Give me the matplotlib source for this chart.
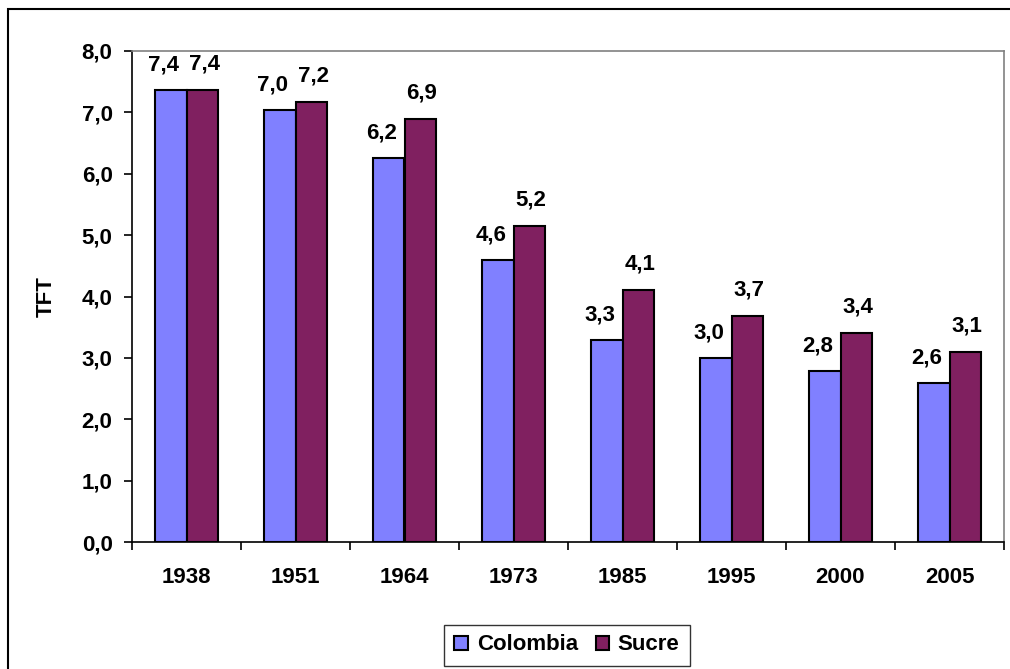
import matplotlib
matplotlib.use("Agg")
import matplotlib.pyplot as plt
import numpy as np
from matplotlib.patches import Rectangle

years = ["1938", "1951", "1964", "1973", "1985", "1995", "2000", "2005"]
colombia = [7.36, 7.04, 6.25, 4.59, 3.29, 3.00, 2.78, 2.59]
sucre = [7.36, 7.17, 6.89, 5.15, 4.10, 3.69, 3.40, 3.10]
series_names = ["Colombia", "Sucre"]
yticks = [0, 1, 2, 3, 4, 5, 6, 7, 8]

plt.rcParams['font.family'] = ['Liberation Sans', 'DejaVu Sans']
plt.rcParams['font.weight'] = 'bold'

W, H = 1010, 669
fig = plt.figure(figsize=(W / 100, H / 100), dpi=100)
ax = fig.add_axes([132 / W, 1 - 542 / H, (1004 - 132) / W, (542 - 51) / H])

x = np.arange(len(years))
bw = 0.285
c1, c2 = "#8080FF", "#802060"
ax.bar(x - bw / 2, colombia, bw, color=c1, edgecolor="black", linewidth=1.5, label=series_names[0])
ax.bar(x + bw / 2, sucre, bw, color=c2, edgecolor="black", linewidth=1.5, label=series_names[1])

fs = 16
lfs = 16
for xi, v in zip(x, colombia):
    ax.annotate(f"{v:.1f}".replace(".", ","), (xi - bw / 2, v), xytext=(-7, 25),
                textcoords="offset pixels", ha="center", va="center", fontsize=lfs, fontweight="bold")
for xi, v in zip(x, sucre):
    ax.annotate(f"{v:.1f}".replace(".", ","), (xi + bw / 2, v), xytext=(2, 26),
                textcoords="offset pixels", ha="center", va="center", fontsize=lfs, fontweight="bold")

ax.set_xlim(-0.5, len(years) - 0.5)
ax.set_ylim(0, 8)
ax.set_yticks(yticks)
ax.set_yticklabels([f"{t:.1f}".replace(".", ",") for t in yticks], fontsize=fs, fontweight="bold")
ax.set_xticks(x)
ax.set_xticklabels(years, fontsize=fs, fontweight="bold")
ax.tick_params(axis="x", which="major", length=0, pad=18)
ax.set_xticks(np.arange(-0.5, len(years)), minor=True)
ax.tick_params(axis="x", which="minor", length=6, width=1.2, direction="out")
ax.tick_params(axis="y", length=6, width=1.2, direction="out", pad=8)

for s in ["left", "bottom"]:
    ax.spines[s].set_color("black")
    ax.spines[s].set_linewidth(1.2)
for s in ["top", "right"]:
    ax.spines[s].set_color("#808080")
    ax.spines[s].set_linewidth(1.2)

ax.set_ylabel("TFT", fontsize=fs, fontweight="bold", labelpad=18)

leg = ax.legend(loc="center", bbox_to_anchor=(567 / W, 1 - 645 / H), bbox_transform=fig.transFigure,
                ncol=2, frameon=True, fancybox=False, prop={"size": fs, "weight": "bold"},
                handlelength=0.6, handleheight=0.6, handletextpad=0.4, columnspacing=0.8,
                borderpad=0.45, edgecolor="black")
leg.get_frame().set_linewidth(1.0)

fig.patches.append(Rectangle((8 / W, -0.1), 1.2, 1 - 9 / H + 0.1, transform=fig.transFigure,
                             fill=False, edgecolor="black", linewidth=1.5))

fig.savefig("out.png", dpi=100)
